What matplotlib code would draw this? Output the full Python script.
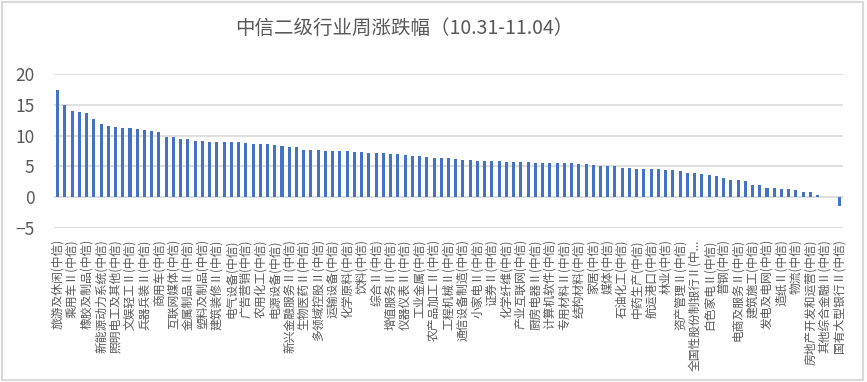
import numpy as np
import matplotlib
matplotlib.use("Agg")
import matplotlib.pyplot as plt
from matplotlib.patches import Rectangle

plt.rcParams['font.family'] = ['Noto Sans CJK SC', 'DejaVu Sans']

title = "中信二级行业周涨跌幅（10.31-11.04）"

# weekly change (%) of each industry, sorted high to low
values = [17.36, 14.93, 13.96, 13.80, 13.64, 12.67, 11.86, 11.54, 11.37, 11.21,
          11.20, 11.05, 10.89, 10.73, 10.57, 9.76, 9.76, 9.43, 9.43, 9.11,
          9.11, 8.95, 8.95, 8.95, 8.95, 8.95, 8.79, 8.63, 8.63, 8.63,
          8.46, 8.30, 8.14, 8.14, 7.65, 7.65, 7.65, 7.49, 7.49, 7.49,
          7.49, 7.33, 7.33, 7.17, 7.17, 7.17, 7.00, 7.00, 6.85, 6.68,
          6.68, 6.52, 6.36, 6.36, 6.36, 6.20, 6.04, 6.04, 5.88, 5.88,
          5.88, 5.88, 5.71, 5.71, 5.71, 5.71, 5.55, 5.55, 5.55, 5.55,
          5.55, 5.55, 5.39, 5.39, 5.23, 5.07, 5.07, 5.07, 4.74, 4.74,
          4.58, 4.58, 4.58, 4.58, 4.42, 4.42, 4.26, 3.94, 3.94, 3.77,
          3.61, 3.45, 3.13, 2.80, 2.80, 2.64, 1.99, 1.99, 1.51, 1.51,
          1.35, 1.35, 1.19, 0.86, 0.86, 0.38, 0.03, -0.02, -1.38]

# only every second category is labelled in the chart
shown_labels = [
    "旅游及休闲(中信)", "乘用车Ⅱ(中信)", "橡胶及制品(中信)", "新能源动力系统(中信)",
    "照明电工及其他(中信)", "文娱轻工Ⅱ(中信)", "兵器兵装Ⅱ(中信)", "商用车(中信)",
    "互联网媒体(中信)", "金属制品Ⅱ(中信)", "塑料及制品(中信)", "建筑装修Ⅱ(中信)",
    "电气设备(中信)", "广告营销(中信)", "农用化工(中信)", "电源设备(中信)",
    "新兴金融服务Ⅱ(中信)", "生物医药Ⅱ(中信)", "多领域控股Ⅱ(中信)", "运输设备(中信)",
    "化学原料(中信)", "饮料(中信)", "综合Ⅱ(中信)", "增值服务Ⅱ(中信)",
    "仪器仪表Ⅱ(中信)", "工业金属(中信)", "农产品加工Ⅱ(中信)", "工程机械Ⅱ(中信)",
    "通信设备制造(中信)", "小家电Ⅱ(中信)", "证券Ⅱ(中信)", "化学纤维(中信)",
    "产业互联网(中信)", "厨房电器Ⅱ(中信)", "计算机软件(中信)", "专用材料Ⅱ(中信)",
    "结构材料(中信)", "家居(中信)", "媒体(中信)", "石油化工(中信)",
    "中药生产(中信)", "航运港口(中信)", "林业(中信)", "资产管理Ⅱ(中信)",
    "全国性股份制银行Ⅱ(中...", "白色家电Ⅱ(中信)", "普钢(中信)", "电商及服务Ⅱ(中信)",
    "建筑施工(中信)", "发电及电网(中信)", "造纸Ⅱ(中信)", "物流(中信)",
    "房地产开发和运营(中信)", "其他综合金融Ⅱ(中信)", "国有大型银行Ⅱ(中信)"]

grey = '#595959'
x = np.arange(len(values))

fig = plt.figure(figsize=(8.67, 3.82), dpi=100)
ax = fig.add_axes([0.0623, 0.4031, 0.9100, 0.4032])

ax.bar(x, values, width=0.42, color='#4472C4', zorder=3)

ax.set_xlim(-0.5, len(values) - 0.5)
ax.set_ylim(-5, 20)
ax.set_yticks([-5, 0, 5, 10, 15, 20])
ax.yaxis.grid(True, color='#D9D9D9', linewidth=1.2, zorder=0)
ax.set_axisbelow(True)
for s in ax.spines.values():
    s.set_visible(False)

ax.set_xticks(x[::2])
ax.set_xticklabels(shown_labels, rotation=90, ha='center', va='top',
                   fontsize=8.5, color=grey)
ax.tick_params(axis='x', length=0, pad=8)
ax.tick_params(axis='y', length=0, pad=14, labelsize=12.5, labelcolor=grey)

fig.text(0.466, 0.927, title, ha='center', va='center', fontsize=14, color=grey)

fig.patches.append(Rectangle((0.002, 0.004), 0.993, 0.99, transform=fig.transFigure,
                             fill=False, edgecolor='#D9D9D9', linewidth=1.5))

fig.savefig('out.png', dpi=100, facecolor='white')
